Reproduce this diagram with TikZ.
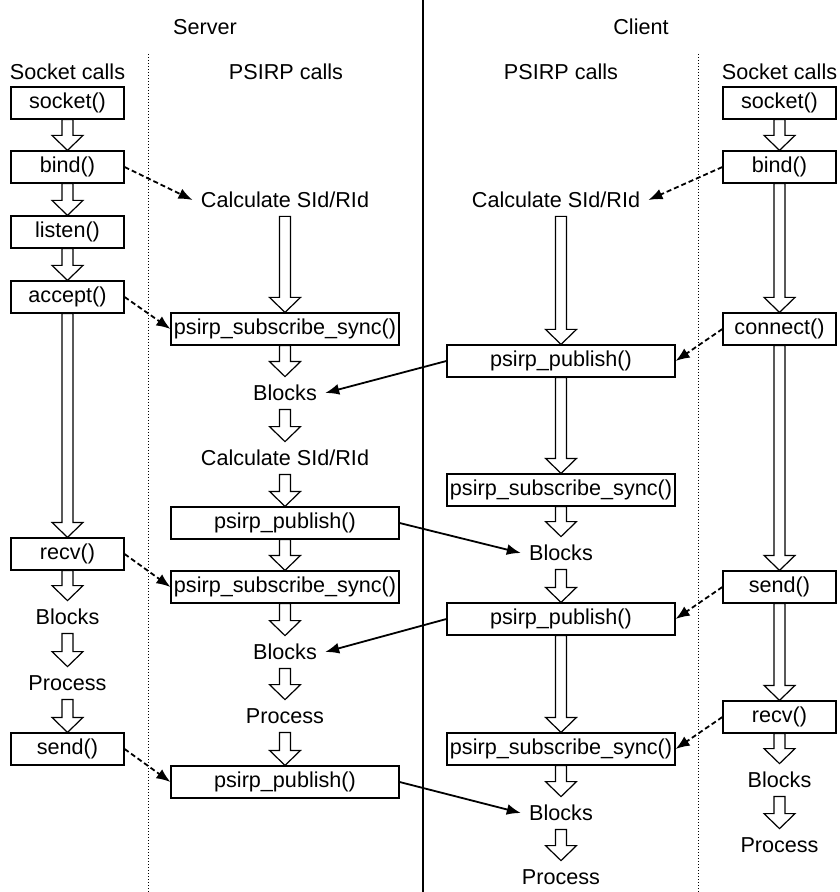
\documentclass[tikz,border=0pt]{standalone}
\usepackage{fontspec}
\setmainfont{Liberation Sans}
\usetikzlibrary{calc,arrows.meta}

\newcommand{\diagfont}{\fontsize{10.8}{13}\selectfont}
% hollow block arrow from the foot of #1 down to the top of #2
\newcommand{\flowto}[2]{%
  \draw[hollow] ($(#2.north |- #1.south)+(-5.5,0)$) -- ($(#2.north)+(-5.5,-15)$)
    -- ++(-10,0) -- (#2.north) -- ++(15.5,-15) -- ++(-10,0)
    -- ($(#2.north |- #1.south)+(5.5,0)$) -- cycle;}

\tikzset{
  box/.style={draw, line width=0.6pt, minimum height=16pt, inner sep=1pt},
  sockbox/.style={box, minimum width=56.5pt},
  psirpbox/.style={box, minimum width=114pt},
  lbl/.style={minimum height=16pt, inner xsep=4pt},
  hollow/.style={draw, fill=white, line width=0.6pt, line join=miter},
  call/.style={line width=0.9pt, dash pattern=on 2.5pt off 1.5pt, -{Latex[length=7pt,width=5.5pt]}},
  msg/.style={line width=0.9pt, -{Latex[length=7pt,width=5.5pt]}},
  divider/.style={line width=0.5pt, dash pattern=on 0.6pt off 0.9pt}
}

\begin{document}
\begin{tikzpicture}[x=0.5pt,y=-0.5pt,every node/.style={font=\diagfont}]
\useasboundingbox (0,0) rectangle (839,892);

% column dividers
\draw[line width=0.6pt] (423,0) -- (423,892);
\draw[divider] (148,54) -- (148,892);
\draw[divider] (698,54) -- (698,892);

% headings
\node (server) at (205,27) {Server};
\node (client) at (641,27) {Client};
\node (svSockHead) at (67.5,72) {Socket calls};
\node (svPsirpHead) at (286,72) {PSIRP calls};
\node (clPsirpHead) at (561,72) {PSIRP calls};
\node (clSockHead) at (779.5,72) {Socket calls};

% server, socket calls
\node[sockbox] (svSocket) at (67.5,103) {socket()};
\node[sockbox] (svBind) at (67.5,167) {bind()};
\node[sockbox] (svListen) at (67.5,232) {listen()};
\node[sockbox] (svAccept) at (67.5,297) {accept()};
\node[sockbox] (svRecv) at (67.5,554) {recv()};
\node[lbl] (svBlocks) at (67.5,617) {Blocks};
\node[lbl] (svProcess) at (67.5,683) {Process};
\node[sockbox] (svSend) at (67.5,749) {send()};

% server, PSIRP calls
\node[lbl] (svCalcA) at (285,200) {Calculate SId/RId};
\node[psirpbox] (svSubA) at (285,329) {psirp\_subscribe\_sync()};
\node[lbl] (svBlkA) at (285,393) {Blocks};
\node[lbl] (svCalcB) at (285,458) {Calculate SId/RId};
\node[psirpbox] (svPubA) at (285,523) {psirp\_publish()};
\node[psirpbox] (svSubB) at (285,587) {psirp\_subscribe\_sync()};
\node[lbl] (svBlkB) at (285,652) {Blocks};
\node[lbl] (svProc) at (285,716) {Process};
\node[psirpbox] (svPubB) at (285,782) {psirp\_publish()};

% client, PSIRP calls
\node[lbl] (clCalc) at (556,200) {Calculate SId/RId};
\node[psirpbox] (clPubA) at (561,361) {psirp\_publish()};
\node[psirpbox] (clSubA) at (561,490) {psirp\_subscribe\_sync()};
\node[lbl] (clBlkA) at (561,553) {Blocks};
\node[psirpbox] (clPubB) at (561,619) {psirp\_publish()};
\node[psirpbox] (clSubB) at (561,749) {psirp\_subscribe\_sync()};
\node[lbl] (clBlkB) at (561,813) {Blocks};
\node[lbl] (clProc) at (561,877) {Process};

% client, socket calls
\node[sockbox] (clSocket) at (779.5,103) {socket()};
\node[sockbox] (clBind) at (779.5,167) {bind()};
\node[sockbox] (clConnect) at (779.5,329) {connect()};
\node[sockbox] (clSend) at (779.5,587) {send()};
\node[sockbox] (clRecv) at (779.5,717) {recv()};
\node[lbl] (clBlocks) at (779.5,780) {Blocks};
\node[lbl] (clProcess) at (779.5,845) {Process};

% flow within each column
\flowto{svSocket}{svBind}
\flowto{svBind}{svListen}
\flowto{svListen}{svAccept}
\flowto{svAccept}{svRecv}
\flowto{svRecv}{svBlocks}
\flowto{svBlocks}{svProcess}
\flowto{svProcess}{svSend}

\flowto{svCalcA}{svSubA}
\flowto{svSubA}{svBlkA}
\flowto{svBlkA}{svCalcB}
\flowto{svCalcB}{svPubA}
\flowto{svPubA}{svSubB}
\flowto{svSubB}{svBlkB}
\flowto{svBlkB}{svProc}
\flowto{svProc}{svPubB}

\flowto{clCalc}{clPubA}
\flowto{clPubA}{clSubA}
\flowto{clSubA}{clBlkA}
\flowto{clBlkA}{clPubB}
\flowto{clPubB}{clSubB}
\flowto{clSubB}{clBlkB}
\flowto{clBlkB}{clProc}

\flowto{clSocket}{clBind}
\flowto{clBind}{clConnect}
\flowto{clConnect}{clSend}
\flowto{clSend}{clRecv}
\flowto{clRecv}{clBlocks}
\flowto{clBlocks}{clProcess}

% socket call -> PSIRP call
\draw[call] (svBind.east) -- (svCalcA.west);
\draw[call] (svAccept.east) -- (svSubA.west);
\draw[call] (svRecv.east) -- (svSubB.west);
\draw[call] (svSend.east) -- (svPubB.west);
\draw[call] (clBind.west) -- (clCalc.east);
\draw[call] (clConnect.west) -- (clPubA.east);
\draw[call] (clSend.west) -- (clPubB.east);
\draw[call] (clRecv.west) -- (clSubB.east);

% publications between the two sides
\draw[msg] (clPubA.west) -- (svBlkA.east);
\draw[msg] (svPubA.east) -- (clBlkA.west);
\draw[msg] (clPubB.west) -- (svBlkB.east);
\draw[msg] (svPubB.east) -- (clBlkB.west);
\end{tikzpicture}
\end{document}
